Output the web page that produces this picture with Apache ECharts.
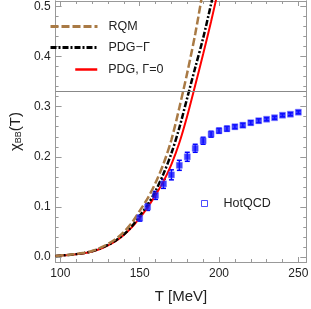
<!DOCTYPE html>
<html><head><meta charset="utf-8">
<script src="https://cdn.jsdelivr.net/npm/echarts@6/dist/echarts.min.js"></script>
<style>html,body{margin:0;padding:0;background:#fff}#c{width:311px;height:309px}</style>
</head><body><div id="c"></div>
<script>
// Curves
const curveT = [97,100,105,110,115,120,125,130,135,140,145,150,155,160,165,170,175,180,185,190,195,200];
const rqm    = [0.0022,0.003,0.0042,0.006,0.0085,0.012,0.018,0.026,0.036,0.050,0.068,0.092,0.117,0.148,0.186,0.234,0.298,0.368,0.445,0.535,0.63,0.72];
const pdgG   = [0.0021,0.0029,0.004,0.0057,0.008,0.0115,0.017,0.024,0.033,0.045,0.061,0.082,0.104,0.132,0.166,0.207,0.258,0.318,0.378,0.437,0.505,0.575];
const pdg0   = [0.002,0.0028,0.0039,0.0055,0.0075,0.011,0.016,0.023,0.032,0.044,0.059,0.078,0.099,0.124,0.151,0.185,0.228,0.282,0.343,0.405,0.470,0.540];
// HotQCD lattice
const qcdT   = [150,155,160,165,170,175,180,185,190,195,200,205,210,215,220,225,230,235,240,245,250];
const qcdV   = [0.0775,0.100,0.123,0.146,0.164,0.183,0.200,0.217,0.232,0.245,0.252,0.256,0.260,0.263,0.268,0.272,0.275,0.278,0.283,0.285,0.289];
const qcdE   = [0.006,0.007,0.008,0.009,0.010,0.010,0.009,0.008,0.007,0.006,0.005,0.005,0.004,0.004,0.004,0.004,0.003,0.003,0.003,0.003,0.003];
const refLine = 1/3;
// Ticks
const xMajor = [100,150,200,250];
const xMinor = [100,110,120,130,140,150,160,170,180,190,200,210,220,230,240,250];
const yMajor = [0,0.1,0.2,0.3,0.4,0.5];
const yMinor = [0,0.02,0.04,0.06,0.08,0.1,0.12,0.14,0.16,0.18,0.2,0.22,0.24,0.26,0.28,0.3,0.32,0.34,0.36,0.38,0.4,0.42,0.44,0.46,0.48,0.5];

const FONT = 'Liberation Sans';
const frame = '#999';
const XMIN=97, XMAX=255, YMIN=-0.01, YMAX=0.511;

function xa(pos, ticks, len, labels, extra){
  return Object.assign({type:'value', position:pos, min:XMIN, max:XMAX,
    axisLine:{show:true, onZero:false, lineStyle:{color:frame, width:1}},
    axisTick:{show:true, inside:true, length:len, customValues:ticks, lineStyle:{color:frame}},
    axisLabel:{show:labels, customValues:ticks, color:'#222', fontFamily:FONT, fontSize:12, margin:6},
    splitLine:{show:false}}, extra||{});
}
function ya(pos, ticks, len, labels, extra){
  return Object.assign({type:'value', position:pos, min:YMIN, max:YMAX,
    axisLine:{show:true, onZero:false, lineStyle:{color:frame, width:1}},
    axisTick:{show:true, inside:true, length:len, customValues:ticks, lineStyle:{color:frame}},
    axisLabel:{show:labels, customValues:ticks, color:'#222', fontFamily:FONT, fontSize:12, margin:5,
      formatter:v=>v.toFixed(1)},
    splitLine:{show:false}}, extra||{});
}

const chart = echarts.init(document.getElementById('c'), null, {renderer:'canvas'});
const zip = (a,b)=>a.map((t,i)=>[t,b[i]]);
const noSym = {color:'rgba(0,0,0,0)', borderWidth:0, borderColor:'rgba(0,0,0,0)'};
chart.setOption({
  animation:false,
  grid:{left:44, right:4, top:1, bottom:44},
  xAxis:[
    xa('bottom', xMajor, 5, true, {name:'T [MeV]', nameLocation:'middle', nameGap:27,
      nameTextStyle:{color:'#222', fontFamily:FONT, fontSize:15}}),
    xa('bottom', xMinor, 3, false),
    xa('top', xMajor, 5, false),
    xa('top', xMinor, 3, false)
  ],
  yAxis:[
    ya('left', yMajor, 6, true, {name:'{a|χ}{s|BB}{a|(T)}', nameLocation:'middle', nameGap:30,
      nameTextStyle:{rich:{a:{color:'#222', fontFamily:FONT, fontSize:15}, s:{color:'#222', fontFamily:FONT, fontSize:9, verticalAlign:'bottom', padding:[6,0,0,0]}}}}),
    ya('left', yMinor, 3, false),
    ya('right', yMajor, 6, false),
    ya('right', yMinor, 3, false)
  ],
  legend:[
    {orient:'vertical', left:44, top:15, itemWidth:47, itemHeight:14, itemGap:8,
      lineStyle:{width:3},
      data:[{name:'RQM', itemStyle:noSym},{name:'PDG−Γ', itemStyle:noSym}],
      textStyle:{color:'#222', fontFamily:FONT, fontSize:12.5, padding:[0,0,0,6]}},
    {orient:'vertical', left:69, top:58, itemWidth:22, itemHeight:14,
      lineStyle:{width:2.5},
      data:[{name:'PDG, Γ=0', itemStyle:noSym}],
      textStyle:{color:'#222', fontFamily:FONT, fontSize:12.5, padding:[0,0,0,6]}},
    {orient:'vertical', left:196, top:192, itemWidth:6, itemHeight:6,
      data:[{name:'HotQCD', icon:'rect', itemStyle:{color:'#fff', borderColor:'#2020ff', borderWidth:1}}],
      textStyle:{color:'#222', fontFamily:FONT, fontSize:12.5, padding:[0,0,0,11]}}
  ],
  series:[
    {name:'PDG, Γ=0', type:'line', data:zip(curveT,pdg0), showSymbol:false, symbol:'none', smooth:0.3,
      lineStyle:{color:'#ff0000', width:2}, itemStyle:{color:'#ff0000'},
      markLine:{silent:true, symbol:'none', label:{show:false}, lineStyle:{color:'#888', width:1, type:'solid'},
        data:[{yAxis:refLine}]}},
    {name:'PDG−Γ', type:'line', data:zip(curveT,pdgG), showSymbol:false, symbol:'none', smooth:0.3,
      lineStyle:{color:'#000', width:2.5, type:[6,2,2,2]}, itemStyle:{color:'#000'}},
    {name:'RQM', type:'line', data:zip(curveT,rqm), showSymbol:false, symbol:'none', smooth:0.3,
      lineStyle:{color:'#a97a45', width:2.5, type:[8,3]}, itemStyle:{color:'#a97a45'}},
    {name:'HotQCDerr', type:'custom', data:qcdT.map((t,i)=>[t, qcdV[i]-qcdE[i], qcdV[i]+qcdE[i]]),
      renderItem:function(params, api){
        const p1 = api.coord([api.value(0), api.value(1)]);
        const p2 = api.coord([api.value(0), api.value(2)]);
        const st = {stroke:'#0000ff', lineWidth:1.5};
        return {type:'group', children:[
          {type:'line', shape:{x1:p1[0], y1:p1[1], x2:p2[0], y2:p2[1]}, style:st},
          {type:'line', shape:{x1:p1[0]-2.5, y1:p1[1], x2:p1[0]+2.5, y2:p1[1]}, style:st},
          {type:'line', shape:{x1:p2[0]-2.5, y1:p2[1], x2:p2[0]+2.5, y2:p2[1]}, style:st}
        ]};
      }, encode:{x:0, y:[1,2]}, z:3},
    {name:'HotQCD', type:'scatter', data:zip(qcdT,qcdV), symbol:'rect', symbolSize:6,
      itemStyle:{color:'#1010ff', borderColor:'#5a5aff', borderWidth:0.5}, z:4}
  ]
});
</script></body></html>
